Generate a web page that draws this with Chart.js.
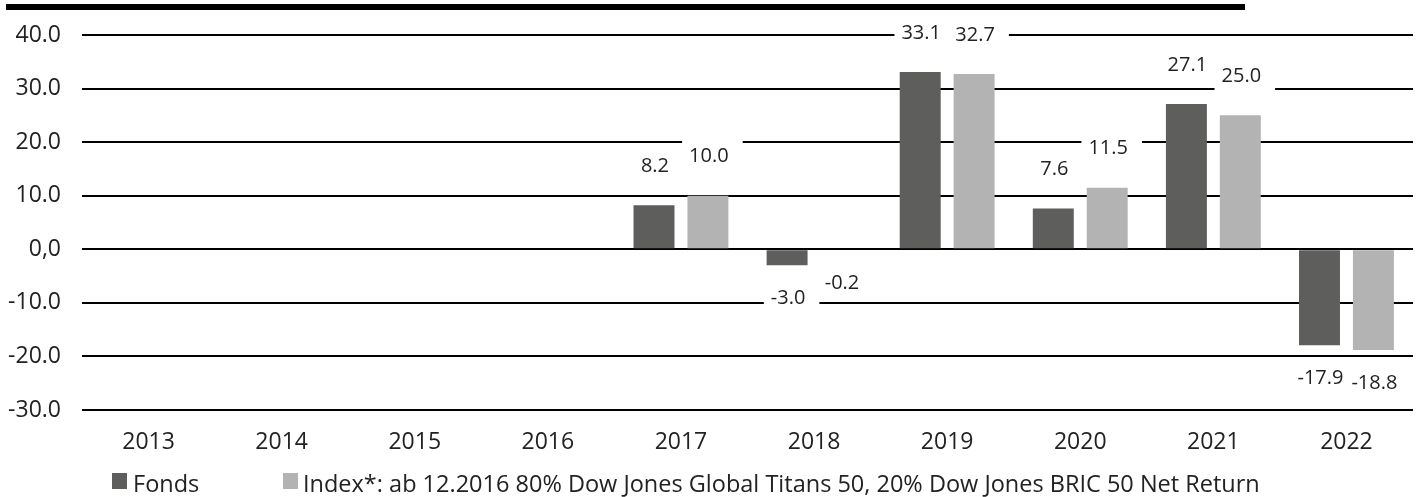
<!DOCTYPE html>
<html>
<head>
<meta charset="utf-8">
<script src="https://cdn.jsdelivr.net/npm/chart.js@4/dist/chart.umd.min.js"></script>
<style>
  html, body { margin: 0; padding: 0; background: #fff; }
  #wrap { position: relative; width: 1421px; height: 497px; overflow: hidden; font-family: "Open Sans", sans-serif; }
  #topbar { position: absolute; left: 6px; top: 4px; width: 1239px; height: 6px; background: #000; }
  #chartbox { position: absolute; left: 0; top: 0; width: 1421px; height: 462px; }
  #legend { position: absolute; top: 0; left: 0; width: 1421px; height: 497px; pointer-events: none; }
  .sw { position: absolute; top: 473px; width: 15px; height: 16px; }
  .txt { position: absolute; top: 467px; line-height: 32px; font-size: 23.5px; color: #222; white-space: nowrap; }
</style>
</head>
<body>
<div id="wrap">
  <div id="chartbox"><canvas id="c"></canvas></div>
  <div id="topbar"></div>
  <div id="legend"></div>
</div>
<script>
const categories = ["2013","2014","2015","2016","2017","2018","2019","2020","2021","2022"];
const fondsValues = [null, null, null, null, 8.2, -3.0, 33.1, 7.6, 27.1, -17.9];
const indexValues = [null, null, null, null, 10.0, -0.2, 32.7, 11.5, 25.0, -18.8];
const seriesNames = ["Fonds", "Index*: ab 12.2016 80% Dow Jones Global Titans 50, 20% Dow Jones BRIC 50 Net Return"];
const yTickValues = [40, 30, 20, 10, 0, -10, -20, -30];
const yTickLabels = ["40.0", "30.0", "20.0", "10.0", "0,0", "-10.0", "-20.0", "-30.0"];
const colors = ["#5e5e5c", "#b3b3b3"];

const labelPlugin = {
  id: 'valueLabels',
  afterDatasetsDraw(chart) {
    const ctx = chart.ctx;
    ctx.save();
    ctx.font = '20px "Open Sans"';
    ctx.textAlign = 'center';
    ctx.textBaseline = 'middle';
    chart.data.datasets.forEach((ds, di) => {
      const meta = chart.getDatasetMeta(di);
      meta.data.forEach((bar, i) => {
        const v = ds.data[i];
        if (v === null || v === undefined) return;
        const txt = v.toFixed(1);
        const cy = v >= 0 ? bar.y - 40 : bar.y + 32;
        const w = ctx.measureText(txt).width;
        const cx = bar.x + 1;
        ctx.fillStyle = '#fff';
        ctx.fillRect(cx - w / 2 - 7, cy - 16, w + 21, 32);
        ctx.fillStyle = '#222';
        ctx.fillText(txt, cx, cy + 1);
      });
    });
    ctx.restore();
  }
};

const chart = new Chart(document.getElementById('c'), {
  type: 'bar',
  data: {
    labels: categories,
    datasets: [
      { label: seriesNames[0], data: fondsValues, backgroundColor: colors[0], categoryPercentage: 0.81, barPercentage: 0.76 },
      { label: seriesNames[1], data: indexValues, backgroundColor: colors[1], categoryPercentage: 0.81, barPercentage: 0.76 }
    ]
  },
  options: {
    responsive: true,
    maintainAspectRatio: false,
    animation: false,
    layout: { padding: { top: 35, right: 8, left: 0, bottom: 0 } },
    plugins: { legend: { display: false }, tooltip: { enabled: false } },
    scales: {
      x: {
        grid: { display: false, drawTicks: false },
        border: { display: false },
        ticks: { color: '#222', font: { family: 'Open Sans', size: 23 }, padding: 19, maxRotation: 0 },
        afterFit(scale) { scale.height = 52; }
      },
      y: {
        min: -30, max: 40,
        afterBuildTicks(scale) { scale.ticks = yTickValues.map(v => ({ value: v })); },
        grid: { color: '#000', lineWidth: 2, drawTicks: false },
        border: { display: false },
        ticks: {
          color: '#222', font: { family: 'Open Sans', size: 23 }, padding: 21,
          callback(value) { const k = yTickValues.indexOf(value); return k >= 0 ? yTickLabels[k] : ''; }
        },
        afterFit(scale) { scale.width = 82; }
      }
    }
  },
  plugins: [labelPlugin]
});

const legend = document.getElementById('legend');
const swLefts = [112, 283];
const txtLefts = [133, 303];
chart.data.datasets.forEach((ds, i) => {
  const sw = document.createElement('div');
  sw.className = 'sw';
  sw.style.left = swLefts[i] + 'px';
  sw.style.background = ds.backgroundColor;
  legend.appendChild(sw);
  const t = document.createElement('div');
  t.className = 'txt';
  t.style.left = txtLefts[i] + 'px';
  t.textContent = ds.label;
  legend.appendChild(t);
});
</script>
</body>
</html>
